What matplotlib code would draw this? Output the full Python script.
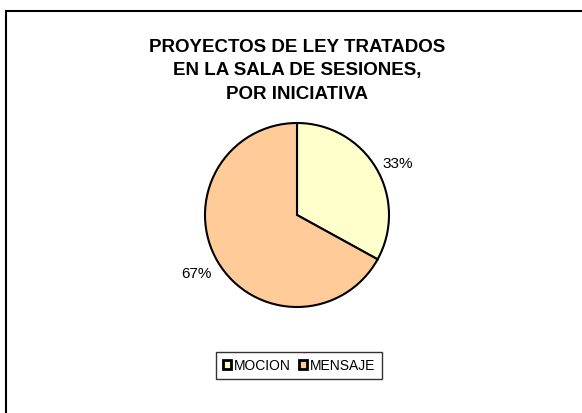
import matplotlib.pyplot as plt
from matplotlib.patches import Rectangle

plt.rcParams['font.family'] = ['Liberation Sans', 'DejaVu Sans']

etiquetas = ['MOCION', 'MENSAJE']
valores = [33, 67]
colores = ['#FFFFCC', '#FFCC99']
titulo = 'PROYECTOS DE LEY TRATADOS\nEN LA SALA DE SESIONES,\nPOR INICIATIVA'

W, H = 582, 413
fig = plt.figure(figsize=(W / 100, H / 100), dpi=100)

# marco exterior (sale por la derecha y por abajo)
fig.patches.append(Rectangle((5.5 / W, -0.1), 1.2, 1 - 10.5 / H + 0.1,
                             transform=fig.transFigure, fill=False,
                             edgecolor='black', linewidth=1.5))

# pie centrado en (297, 215) px con radio 92 px
cx, cy, r = 297, 215, 92
ax = fig.add_axes([(cx - r) / W, (H - cy - r) / H, 2 * r / W, 2 * r / H])
wedges, textos, pcts = ax.pie(valores, colors=colores, startangle=90,
                              counterclock=False, autopct='%1.0f%%',
                              pctdistance=1.25,
                              wedgeprops=dict(edgecolor='black', linewidth=1.5))
# posiciones de las etiquetas como en el original
pcts[0].set_position((1.10, 0.55))
pcts[1].set_position((-1.09, -0.64))
for t in pcts:
    t.set_fontsize(11)
ax.set_xlim(-1, 1)
ax.set_ylim(-1, 1)
ax.set_aspect('equal')

fig.text(297 / W, 1 - 71 / H, titulo, ha='center', va='center',
         fontsize=13.5, fontweight='bold', linespacing=1.52)

leg = fig.legend(wedges, etiquetas, loc='center',
                 bbox_to_anchor=(299 / W, 1 - 365.5 / H), ncol=2,
                 fontsize=10, frameon=True, fancybox=False, handlelength=0.6,
                 handleheight=0.6, handletextpad=0.2, columnspacing=0.6,
                 borderpad=0.45, borderaxespad=0)
leg.get_frame().set_edgecolor('black')
leg.get_frame().set_linewidth(1.0)
for p in leg.get_patches():
    p.set_linewidth(2)

fig.savefig('out.png', dpi=100)
